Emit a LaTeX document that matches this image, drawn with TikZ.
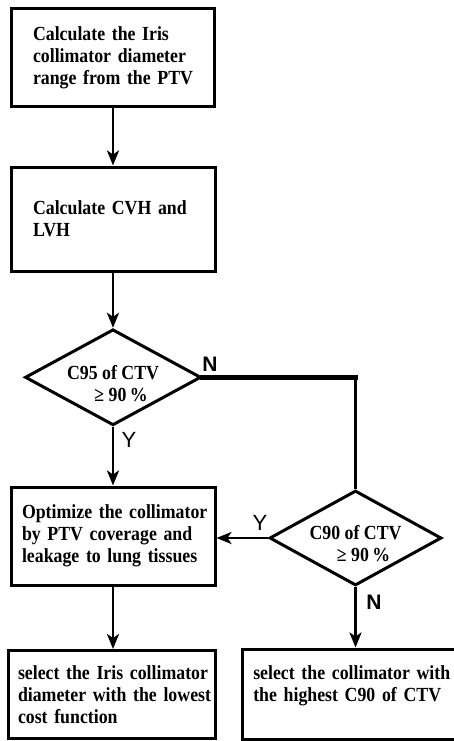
\documentclass[tikz,border=0pt]{standalone}
\usepackage{fontspec}
\setmainfont[FakeStretch=0.89]{Liberation Serif}
\newfontfamily\labfont{Liberation Sans}
\usetikzlibrary{shapes.geometric,arrows.meta}
\newcommand\oneline[1]{\mbox{#1}}
\begin{document}
\begin{tikzpicture}[x=1pt,y=-1pt,
  boxtext/.style={font=\fontsize{20}{22}\selectfont\bfseries},
  box/.style={draw,line width=3pt,rectangle,inner ysep=0pt,align=left,boxtext},
  dia/.style={draw,line width=3pt,diamond,inner sep=0pt,aspect=1.8},
  conn/.style={line width=2.8pt},
  arr/.style={conn,-{Stealth[length=15pt,width=12pt,inset=4pt]}},
  lab/.style={font=\labfont\fontsize{22}{22}\selectfont},
  labb/.style={font=\labfont\fontsize{21}{21}\selectfont\bfseries},
  diatext/.style={boxtext,align=center,yshift=-6pt}]
\useasboundingbox (0,0) rectangle (453,741);

\node[box,minimum width=203pt,minimum height=98pt,inner xsep=21.5pt,text width=160pt] (b1) at (113,58)
  {\oneline{Calculate the Iris}\\\oneline{collimator diameter}\\\oneline{range from the PTV}};
\node[box,minimum width=204pt,minimum height=104pt,inner xsep=22pt,text width=160pt] (b2) at (113,219)
  {\oneline{Calculate CVH and}\\\oneline{LVH}};
\node[dia,minimum width=176pt,minimum height=96pt,
  label={[diatext]center:{\oneline{C95 of CTV}\\\hspace*{16pt}≥ 90\,\%}}] (d1) at (113,377.3) {};
\node[box,minimum width=204pt,minimum height=98pt,inner xsep=11pt,text width=182pt] (b3) at (113,536)
  {\oneline{Optimize the collimator}\\\oneline{by PTV coverage and}\\\oneline{leakage to lung tissues}};
\node[dia,minimum width=172pt,minimum height=95pt,
  label={[diatext]center:{\oneline{C90 of CTV}\\\hspace*{16pt}≥ 90\,\%}}] (d2) at (355.5,538) {};
\node[box,minimum width=206.3pt,minimum height=88.2pt,inner xsep=9.3pt,text width=187.7pt] (b4) at (111.85,694.6)
  {\oneline{select the Iris collimator}\\\oneline{diameter with the lowest}\\\oneline{cost function}};
\node[box,minimum width=227.7pt,minimum height=90pt,inner xsep=11pt,text width=205.7pt,
  text height=14pt,text depth=44pt] (b5) at (356.15,694)
  {\oneline{select the collimator with}\\\oneline{the highest C90 of CTV}};

\draw[arr] (b1) -- (b2);
\draw[arr] (b2) -- (d1);
\draw[arr] (d1) -- (b3);
\draw[arr] (b3.south) -- (b3.south |- b4.north);
\coordinate (c) at (d2.north |- d1.east);
\draw[line width=4.5pt,line cap=rect] (d1.east) -- (c);
\draw[conn] (c) -- (d2.north);
\draw[arr] (d2.west) -- (d2.west -| b3.east);
\draw[arr] (d2.south) -- (d2.south |- b5.north);

\node[labb] (n1) at (210,364.5) {N};
\node[lab] (y1) at (129,440) {Y};
\node[lab] (y2) at (260,523) {Y};
\node[labb] (n2) at (374,602) {N};
\end{tikzpicture}
\end{document}
